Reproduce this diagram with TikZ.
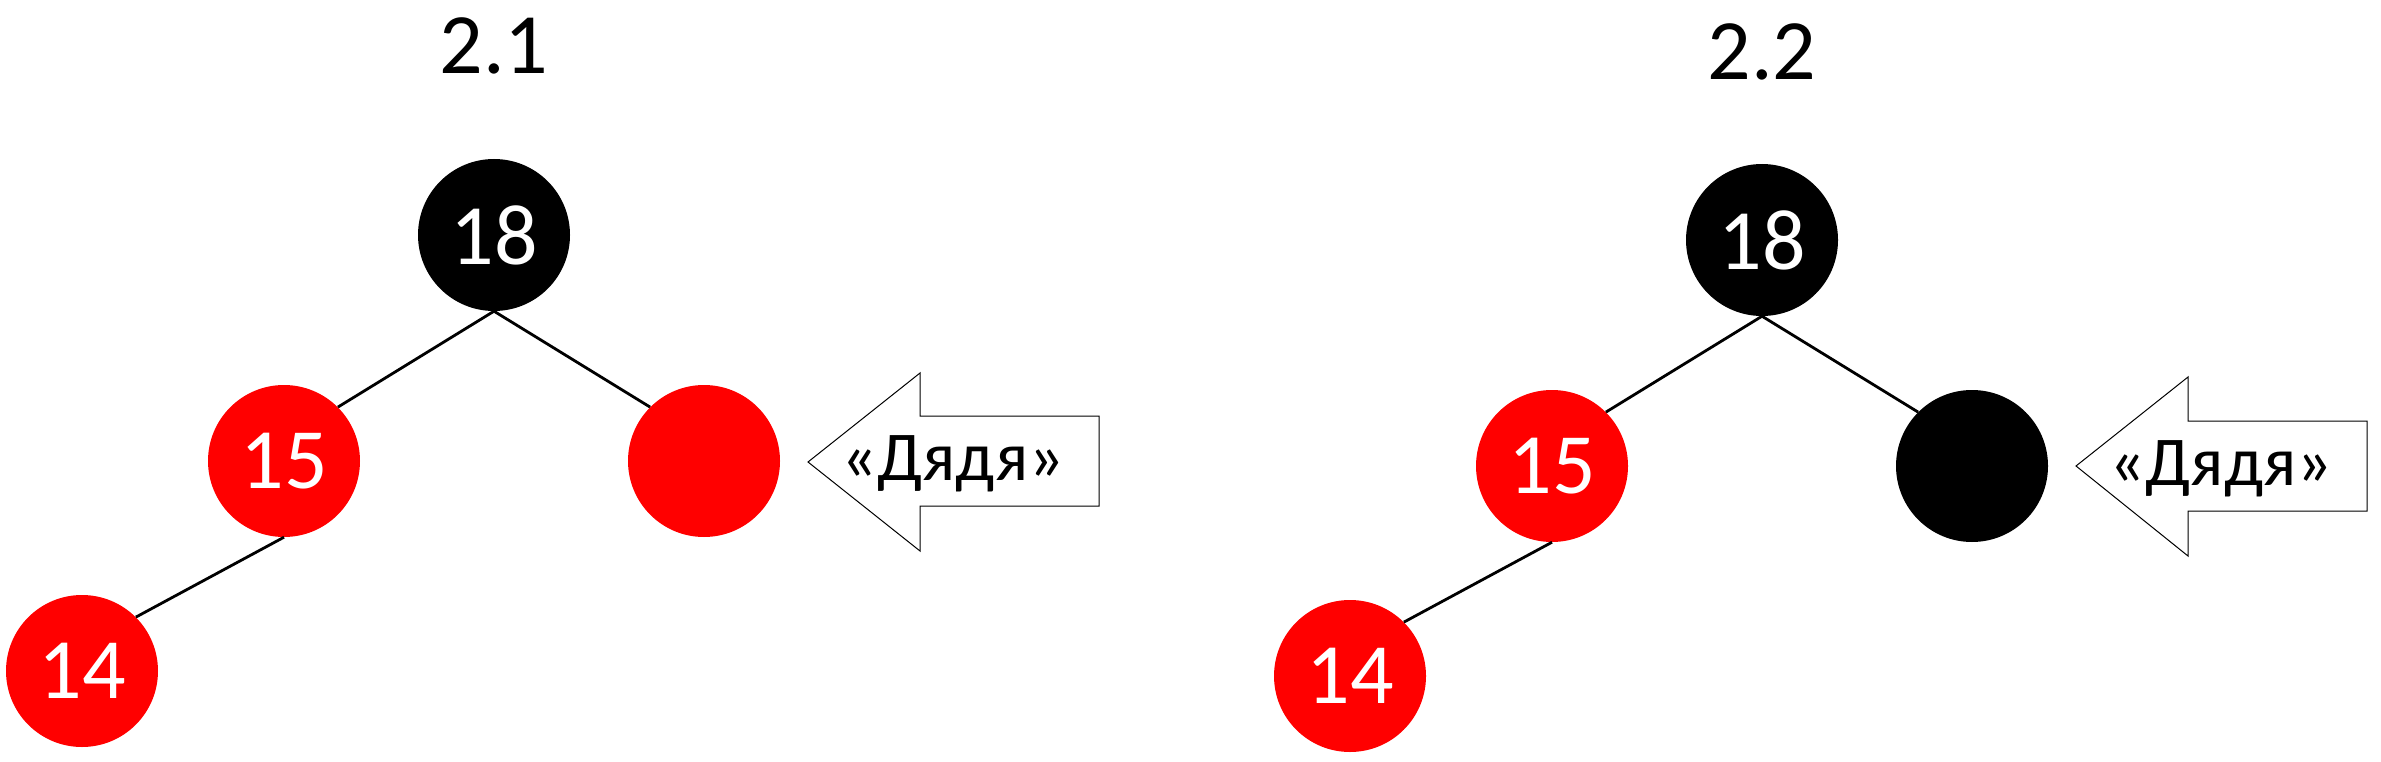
\documentclass[tikz,border=0pt]{standalone}
\usepackage{fontspec}
\setmainfont{Carlito}
\begin{document}
\begin{tikzpicture}[x=1pt,y=-1pt,
  rb/.style={circle, minimum size=152pt, inner sep=0pt, font=\fontsize{86}{90}\selectfont, text=white},
  rednode/.style={rb, fill=red},
  blacknode/.style={rb, fill=black},
  edge/.style={line width=2.8pt},
  unclearrow/.style={line width=1pt, fill=white, line join=miter},
  title/.style={font=\fontsize{86}{90}\selectfont, anchor=base},
  arrowlabel/.style={font=\fontsize{70}{72}\selectfont, anchor=base}
]
\useasboundingbox (0,0) rectangle (2381,762);

% ---- panel 2.1 ----
\node[title] (t1) at (494,74) {2.1};
\node[blacknode] (a18) at (494,235) {18};
\node[rednode] (a15) at (284,461) {15};
\node[rednode] (au) at (704,461) {};
\node[rednode] (a14) at (82,671) {14};
\draw[edge] (a18.south) -- (a15.north east);
\draw[edge] (a18.south) -- (au.north west);
\draw[edge] (a15.south) -- (a14.north east);
\coordinate (atip) at (808,462);
\draw[unclearrow] (atip) -- ++(112,-89) -- ++(0,43) -- ++(179,0) -- ++(0,90) -- ++(-179,0) -- ++(0,45) -- cycle;
\node[arrowlabel] (alab) at (953,480) {«Дядя»};

% ---- panel 2.2 ----
\node[title] (t2) at (1762,80) {2.2};
\node[blacknode] (b18) at (1762,240) {18};
\node[rednode] (b15) at (1552,466) {15};
\node[blacknode] (bu) at (1972,466) {};
\node[rednode] (b14) at (1350,676) {14};
\draw[edge] (b18.south) -- (b15.north east);
\draw[edge] (b18.south) -- (bu.north west);
\draw[edge] (b15.south) -- (b14.north east);
\coordinate (btip) at (2076,466);
\draw[unclearrow] (btip) -- ++(112,-89) -- ++(0,44) -- ++(179,0) -- ++(0,90) -- ++(-179,0) -- ++(0,45) -- cycle;
\node[arrowlabel] (blab) at (2221,485) {«Дядя»};
\end{tikzpicture}
\end{document}
